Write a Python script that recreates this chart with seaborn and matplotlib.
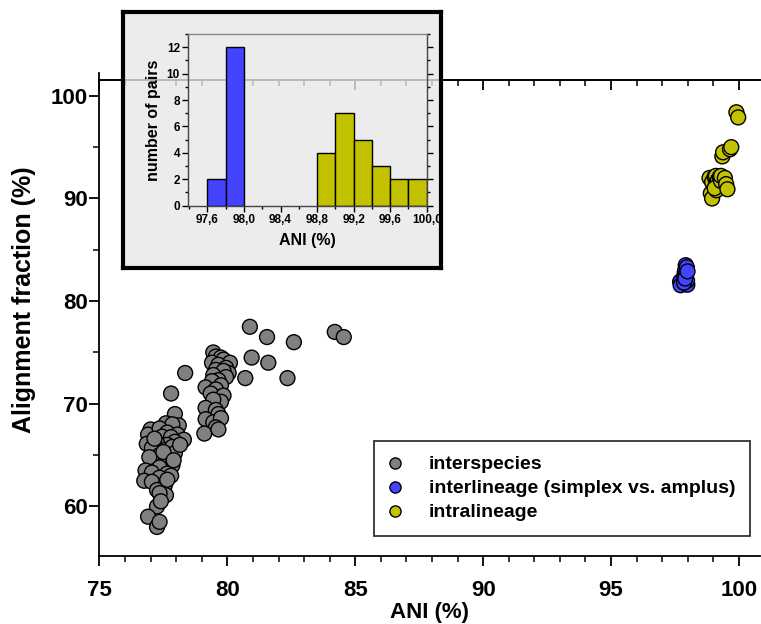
import numpy as np
import pandas as pd
import matplotlib
matplotlib.use('Agg')
import matplotlib.pyplot as plt
import seaborn as sns
from matplotlib.ticker import MultipleLocator, FixedLocator

# main scatter: ANI (%) vs alignment fraction (%)
gray_ani = [80.88, 81.55, 82.6, 84.2, 84.55, 80.95, 81.6, 80.7, 82.35, 78.35, 77.8, 77.95,
            79.45, 79.55, 79.75, 79.85, 80.1, 79.4, 79.65, 79.95, 79.55, 80.05, 79.85, 79.95,
            79.45, 79.65, 79.4, 79.75, 79.15, 79.55, 79.35, 79.85, 79.75, 79.45, 79.15, 79.55,
            79.65, 79.15, 79.45, 79.75, 79.55, 79.1, 79.65,
            77.0, 76.9, 76.85, 77.6, 78.1, 77.85, 77.35, 77.65, 77.45, 78.05, 78.3, 77.8,
            77.95, 77.65, 77.25, 77.05, 77.55, 77.85, 77.35, 77.75, 77.1, 76.95, 77.55, 77.85,
            77.35, 76.8, 77.05, 77.65, 77.8, 77.35, 76.75, 77.05, 77.55, 77.25, 77.6, 77.35,
            77.25, 77.4, 76.9, 77.25, 77.35, 77.95, 78.15, 77.15, 77.65, 77.5, 77.9]
gray_af = [77.5, 76.5, 76.0, 77.0, 76.5, 74.5, 74.0, 72.5, 72.5, 73.0, 71.0, 69.0,
           75.0, 74.6, 74.5, 74.3, 74.0, 74.0, 73.8, 73.5, 73.3, 73.0, 73.2, 72.6,
           72.8, 72.3, 72.2, 71.8, 71.6, 71.4, 71.0, 70.8, 70.2, 70.4, 69.6, 69.4,
           69.0, 68.5, 68.2, 68.6, 67.7, 67.1, 67.5,
           67.5, 67.0, 66.1, 68.1, 67.9, 68.0, 67.6, 67.2, 66.8, 67.0, 66.5, 66.75,
           66.3, 66.0, 66.2, 65.7, 65.5, 65.8, 65.0, 64.8, 64.3, 64.8, 64.2, 64.0,
           63.8, 63.5, 63.3, 63.2, 63.0, 62.8, 62.5, 62.4, 62.0, 61.6, 61.1, 61.3,
           60.0, 60.5, 59.0, 58.0, 58.5, 65.2, 66.0, 66.6, 62.6, 65.3, 64.5]

blue_ani = [97.7, 97.72, 97.92, 97.95, 97.88, 97.86, 97.98, 97.97, 97.9, 97.93, 97.85, 97.96, 97.9, 97.99]
blue_af = [81.9, 81.55, 83.5, 83.2, 82.8, 82.4, 81.6, 82.0, 83.0, 82.6, 81.8, 83.3, 82.2, 82.9]

yellow_ani = [98.85, 98.9, 98.95, 98.95, 99.05, 99.1, 99.15, 99.1, 99.18, 99.12, 99.05,
              99.25, 99.3, 99.35, 99.38, 99.3, 99.45, 99.5, 99.55, 99.65, 99.7, 99.9, 99.97]
yellow_af = [92.0, 90.5, 90.0, 91.6, 92.1, 91.3, 92.0, 92.2, 91.8, 90.8, 91.0,
             92.1, 91.7, 94.1, 94.5, 92.2, 92.0, 91.4, 90.9, 94.8, 95.0, 98.4, 97.9]

# axis ticks
x_ticks = [75, 80, 85, 90, 95, 100]
y_ticks = [60, 70, 80, 90, 100]

# inset histogram (bin width 0.2)
blue_bins = [97.6, 97.8, 98.0]
blue_counts = [2, 12]
yellow_bins = [98.8, 99.0, 99.2, 99.4, 99.6, 99.8, 100.0]
yellow_counts = [4, 7, 5, 3, 2, 2]
hist_ticks = [97.6, 98.0, 98.4, 98.8, 99.2, 99.6, 100.0]
hist_tick_labels = ['97,6', '98,0', '98,4', '98,8', '99,2', '99,6', '100,0']
hist_yticks = [0, 2, 4, 6, 8, 10, 12]

groups = ['interspecies', 'interlineage (simplex vs. amplus)', 'intralineage']
colors = ['#808080', '#4444ff', '#c2c200']

df = pd.DataFrame({
    'ani': gray_ani + blue_ani + yellow_ani,
    'af': gray_af + blue_af + yellow_af,
    'group': [groups[0]] * len(gray_ani) + [groups[1]] * len(blue_ani) + [groups[2]] * len(yellow_ani),
})

sns.set_style('ticks')
plt.rcParams['font.family'] = ['Liberation Sans', 'DejaVu Sans']
plt.rcParams['font.weight'] = 'bold'
plt.rcParams['axes.labelweight'] = 'bold'
plt.rcParams['text.color'] = 'black'
plt.rcParams['axes.labelcolor'] = 'black'
plt.rcParams['xtick.color'] = 'black'
plt.rcParams['ytick.color'] = 'black'

fig = plt.figure(figsize=(7.61, 6.24), dpi=100)
ax = fig.add_axes([0.1307, 0.1083, 0.8679, 0.7628])

sns.scatterplot(data=df, x='ani', y='af', hue='group', palette=dict(zip(groups, colors)),
                s=115, edgecolor='black', linewidth=1, alpha=1, ax=ax)

ax.set_xlim(75, 100.82)
ax.set_ylim(55.13, 101.5)
ax.xaxis.set_minor_locator(MultipleLocator(1))
ax.yaxis.set_minor_locator(MultipleLocator(5))
ax.tick_params(axis='both', which='major', labelsize=16, width=1.3, length=7, color='black')
ax.tick_params(axis='x', which='major', pad=10)
ax.tick_params(axis='y', which='major', pad=1.5)
ax.tick_params(axis='both', which='minor', width=1.1, length=4, color='black')
ax.set_xticks(x_ticks, labels=[str(v) for v in x_ticks], fontweight='bold', fontsize=16)
ax.set_yticks(y_ticks, labels=[str(v) for v in y_ticks], fontweight='bold', fontsize=16)
ax.set_xlabel('ANI (%)', fontsize=16, fontweight='bold', labelpad=1)
ax.set_ylabel('Alignment fraction (%)', fontsize=18, fontweight='bold')
ax.yaxis.set_label_coords(-0.096, 0.539)
for side in ['left', 'bottom', 'top']:
    ax.spines[side].set_linewidth(1.3)
    ax.spines[side].set_color('black')
ax.spines['right'].set_visible(False)
ax.spines['left'].set_bounds(55.13, 102.2)

top = ax.secondary_xaxis('top')
top.xaxis.set_major_locator(MultipleLocator(5))
top.xaxis.set_minor_locator(MultipleLocator(1))
top.tick_params(which='major', direction='in', length=7, width=1.3, labeltop=False)
top.tick_params(which='minor', direction='in', length=4, width=1.1)
top.spines['top'].set_linewidth(1.3)

handles, labels = ax.get_legend_handles_labels()
leg = ax.legend(handles, labels, loc='lower right', bbox_to_anchor=(0.985, 0.043),
                frameon=True, fancybox=False, edgecolor='black', fontsize=14,
                markerscale=0.75, handlelength=0.6, handletextpad=1.45, labelspacing=0.33,
                borderpad=0.75, borderaxespad=0)
leg.get_frame().set_linewidth(1.3)
for t in leg.get_texts():
    t.set_fontweight('bold')

# inset frame (semi-transparent so the top axis line shows through)
frame = fig.add_axes([0.1616, 0.5705, 0.4179, 0.4103], zorder=2)
frame.set_xticks([])
frame.set_yticks([])
frame.set_facecolor((0.91, 0.91, 0.91, 0.8))
for s in frame.spines.values():
    s.set_linewidth(3)
    s.set_color('black')

ins = fig.add_axes([0.2474, 0.6704, 0.3133, 0.2751], zorder=3)
ins.set_facecolor('none')
sns.histplot(x=[(a + b) / 2 for a, b in zip(blue_bins[:-1], blue_bins[1:])], weights=blue_counts,
             bins=blue_bins, color=colors[1], edgecolor='black', linewidth=1, alpha=1, ax=ins)
sns.histplot(x=[(a + b) / 2 for a, b in zip(yellow_bins[:-1], yellow_bins[1:])], weights=yellow_counts,
             bins=yellow_bins, color=colors[2], edgecolor='black', linewidth=1, alpha=1, ax=ins)
ins.set_xlim(97.39, 100.0)
ins.set_ylim(0, 13)
ins.xaxis.set_minor_locator(MultipleLocator(0.2))
ins.yaxis.set_minor_locator(MultipleLocator(1))
ins.tick_params(axis='both', which='major', length=4, width=1, pad=2)
ins.tick_params(axis='both', which='minor', length=2.5, width=1)
ins.tick_params(axis='y', which='both', right=True)
ins.set_xticks(hist_ticks, labels=hist_tick_labels, fontweight='bold', fontsize=8.5)
ins.set_yticks(hist_yticks, labels=[str(v) for v in hist_yticks], fontweight='bold', fontsize=8.5)
ins.set_xlabel('ANI (%)', fontsize=11.5, fontweight='bold', labelpad=5)
ins.set_ylabel('number of pairs', fontsize=11.5, fontweight='bold', labelpad=4)
for s in ins.spines.values():
    s.set_linewidth(1)
    s.set_color('#444444')
ins.spines['top'].set_color('#888888')

fig.savefig('out.png', dpi=100)
